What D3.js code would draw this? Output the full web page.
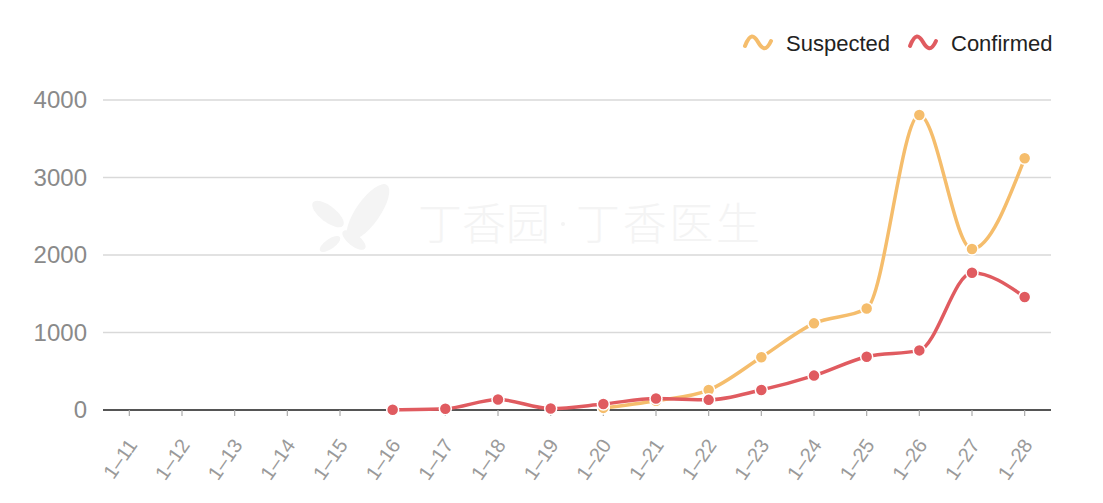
<!DOCTYPE html>
<html>
<head>
<meta charset="utf-8">
<script src="https://cdn.jsdelivr.net/npm/d3@7"></script>
<style>
  body { margin: 0; background: #fff; }
  svg { display: block; font-family: "Liberation Sans", Arial, sans-serif; }
</style>
</head>
<body>
<div id="chart"></div>
<script>
const dates     = ["1–11","1–12","1–13","1–14","1–15","1–16","1–17","1–18","1–19",
                   "1–20","1–21","1–22","1–23","1–24","1–25","1–26","1–27","1–28"];
const suspected = [null,null,null,null,null,null,null,null,null,
                   27,120,257,680,1118,1309,3806,2077,3248];
const confirmed = [null,null,null,null,null,4,17,136,19,
                   77,149,131,259,444,688,769,1771,1459];
const yTicks    = [0, 1000, 2000, 3000, 4000];
const seriesNames  = ["Suspected", "Confirmed"];
const seriesColors = ["#f5bd6c", "#e05b60"];

const width  = 1103;
const height = 503;

const svg = d3.select("#chart").append("svg")
  .attr("width", width)
  .attr("height", height);

const x = d3.scaleBand().domain(dates).range([103, 1051]);
const cx = d => x(d) + x.bandwidth() / 2;
const y = d3.scaleLinear().domain([0, 4000]).range([410, 100]);

// watermark
const wm = svg.append("g").attr("fill", "#f4f4f4");
const leaf = (tx, ty, rot, rx, ry) =>
  wm.append("ellipse").attr("rx", rx).attr("ry", ry)
    .attr("transform", `translate(${tx},${ty}) rotate(${rot})`);
leaf(368, 212, -55, 33, 12);
leaf(328, 214, 38, 19, 8);
leaf(330, 244, -35, 12, 5);
leaf(354, 240, 38, 14, 6);
const wmText = (tx, str, len) => wm.append("text")
  .attr("x", tx).attr("y", 240)
  .attr("font-family", "'Noto Sans CJK SC', sans-serif")
  .attr("font-weight", 300)
  .attr("font-size", 44)
  .attr("textLength", len)
  .text(str);
wmText(418, "丁香园", 132);
wm.append("circle").attr("cx", 563).attr("cy", 224).attr("r", 2);
wmText(576, "丁香医生", 184);

// grid
svg.append("g")
  .selectAll("line")
  .data(yTicks.filter(t => t > 0))
  .join("line")
  .attr("x1", 103).attr("x2", 1051)
  .attr("y1", d => y(d)).attr("y2", d => y(d))
  .attr("stroke", "#d9d9d9").attr("stroke-width", 1.5);

// y axis
const yAxis = svg.append("g")
  .attr("transform", "translate(87,0)")
  .call(d3.axisLeft(y).tickValues(yTicks).tickFormat(d3.format("d")).tickSize(0).tickPadding(0));
yAxis.select(".domain").remove();
yAxis.selectAll("text")
  .attr("fill", "#8a8a8a")
  .attr("font-size", 24)
  .attr("font-family", "'Liberation Sans', Arial, sans-serif");

// x axis
const xAxis = svg.append("g")
  .attr("transform", `translate(0,${y(0)})`)
  .call(d3.axisBottom(x).tickSize(6));
xAxis.select(".domain").attr("stroke", "#555").attr("stroke-width", 2)
  .attr("d", "M103,0H1051");
xAxis.selectAll(".tick line").attr("stroke", "#aaa").attr("stroke-width", 1.2);
xAxis.selectAll("text")
  .attr("fill", "#9a9a9a")
  .attr("font-size", 20)
  .attr("font-family", "'Liberation Sans', Arial, sans-serif")
  .attr("text-anchor", "end")
  .attr("dy", "0.35em")
  .attr("transform", "translate(3,31) rotate(-55)")
  .attr("x", 0).attr("y", 0);

// lines
const series = [suspected, confirmed];
const line = d3.line()
  .defined(d => d.v != null)
  .x(d => cx(d.date))
  .y(d => y(d.v))
  .curve(d3.curveMonotoneX);

series.forEach((vals, i) => {
  const pts = dates.map((date, j) => ({ date, v: vals[j] }));
  const g = svg.append("g");
  g.append("path")
    .datum(pts)
    .attr("fill", "none")
    .attr("stroke", seriesColors[i])
    .attr("stroke-width", 3.5)
    .attr("d", line);
  g.selectAll("circle")
    .data(pts.filter(d => d.v != null))
    .join("circle")
    .attr("cx", d => cx(d.date))
    .attr("cy", d => y(d.v))
    .attr("r", 6)
    .attr("fill", seriesColors[i])
    .attr("stroke", "#fff")
    .attr("stroke-width", 1.5);
});

// legend
const legendX = [745, 910];
const legend = svg.append("g");
seriesNames.forEach((name, i) => {
  const lx = legendX[i];
  legend.append("path")
    .attr("d", `M${lx},${46} C${lx + 5},${33} ${lx + 9},${35} ${lx + 13},${42} S${lx + 21},${52} ${lx + 26},${41}`)
    .attr("fill", "none")
    .attr("stroke", seriesColors[i])
    .attr("stroke-width", 4)
    .attr("stroke-linecap", "round");
  legend.append("text")
    .attr("x", lx + 41).attr("y", 51)
    .attr("font-size", 22)
    .attr("fill", "#222")
    .text(name);
});
</script>
</body>
</html>
